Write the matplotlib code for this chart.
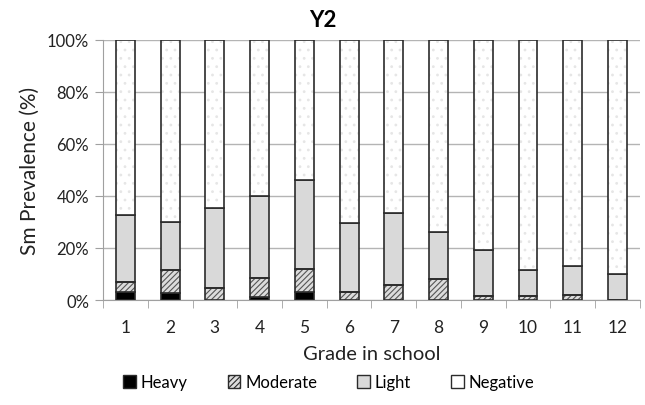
"""Stacked prevalence bars by grade, Y2"""

import numpy as np
import matplotlib
matplotlib.use('Agg')
import matplotlib.pyplot as plt
from matplotlib.patches import Patch

plt.rcParams['font.family'] = ['Lato', 'DejaVu Sans']
plt.rcParams['hatch.linewidth'] = 0.8

grades = ['1', '2', '3', '4', '5', '6', '7', '8', '9', '10', '11', '12']
heavy = [3.0, 2.7, 0.0, 1.2, 3.0, 0.0, 0.0, 0.0, 0.0, 0.0, 0.0, 0.0]
moderate = [3.8, 8.7, 4.6, 7.1, 9.0, 3.0, 5.7, 8.2, 1.5, 1.5, 2.0, 0.0]
light = [25.7, 18.6, 30.6, 31.7, 34.0, 26.5, 27.8, 17.8, 17.8, 10.1, 10.9, 9.8]
negative = [100 - h - m - l for h, m, l in zip(heavy, moderate, light)]

x = np.arange(len(grades))
w = 0.42
edge = '#2b2b2b'

fig = plt.figure(figsize=(6.45, 4.06), dpi=100)
ax = fig.add_axes([0.1597, 0.2586, 0.8325, 0.6412])

b0 = np.zeros(len(grades))
b1 = b0 + heavy
b2 = b1 + moderate
b3 = b2 + light

ax.bar(x, heavy, w, bottom=b0, color='black', edgecolor=edge, lw=1.2, zorder=3)
ax.bar(x, moderate, w, bottom=b1, color='#dcdcdc', edgecolor='#555555',
       hatch='//////', lw=0, zorder=3)
ax.bar(x, moderate, w, bottom=b1, fill=False, edgecolor=edge, lw=1.2, zorder=4)
ax.bar(x, light, w, bottom=b2, color='#d9d9d9', edgecolor=edge, lw=1.2, zorder=3)
ax.bar(x, negative, w, bottom=b3, color='white', edgecolor='#e6e6e6',
       hatch='..', lw=0, zorder=3)
ax.bar(x, negative, w, bottom=b3, fill=False, edgecolor=edge, lw=1.2, zorder=4)

ax.set_xlim(-0.5, len(grades) - 0.5)
ax.set_ylim(0, 100)
ax.set_yticks(np.arange(0, 101, 20))
ax.set_yticklabels(['%d%%' % v for v in range(0, 101, 20)], fontsize=12,
                   color='#222222')
ax.set_xticks(x)
ax.set_xticklabels(grades, fontsize=12.5, color='#222222')
ax.set_xticks(np.arange(-0.5, len(grades)), minor=True)
ax.tick_params(axis='x', which='major', length=0, pad=14)
ax.tick_params(axis='x', which='minor', length=6, color='#a0a0a0')
ax.tick_params(axis='y', length=6, color='#a0a0a0', pad=4)
ax.grid(axis='y', color='#b4b4b4', lw=1, zorder=0)
for s in ['top', 'right']:
    ax.spines[s].set_visible(False)
for s in ['left', 'bottom']:
    ax.spines[s].set_color('#a0a0a0')

ax.set_ylabel('Sm Prevalence (%)', fontsize=15, color='#222222', labelpad=5)
ax.set_xlabel('Grade in school', fontsize=14.5, color='#222222', labelpad=7)
fig.suptitle('Y2', fontsize=16, fontweight='bold', x=0.5, y=0.975)

handles = [Patch(facecolor='black', edgecolor=edge),
           Patch(facecolor='#dcdcdc', edgecolor=edge, hatch='//////'),
           Patch(facecolor='#d9d9d9', edgecolor=edge),
           Patch(facecolor='white', edgecolor=edge)]
fig.legend(handles, ['Heavy', 'Moderate', 'Light', 'Negative'], ncol=4,
           loc='center', bbox_to_anchor=(0.51, 0.056), frameon=False,
           fontsize=12, handlelength=0.75, handleheight=0.75,
           handletextpad=0.3, columnspacing=2.4)

fig.savefig('out.png', dpi=100)
